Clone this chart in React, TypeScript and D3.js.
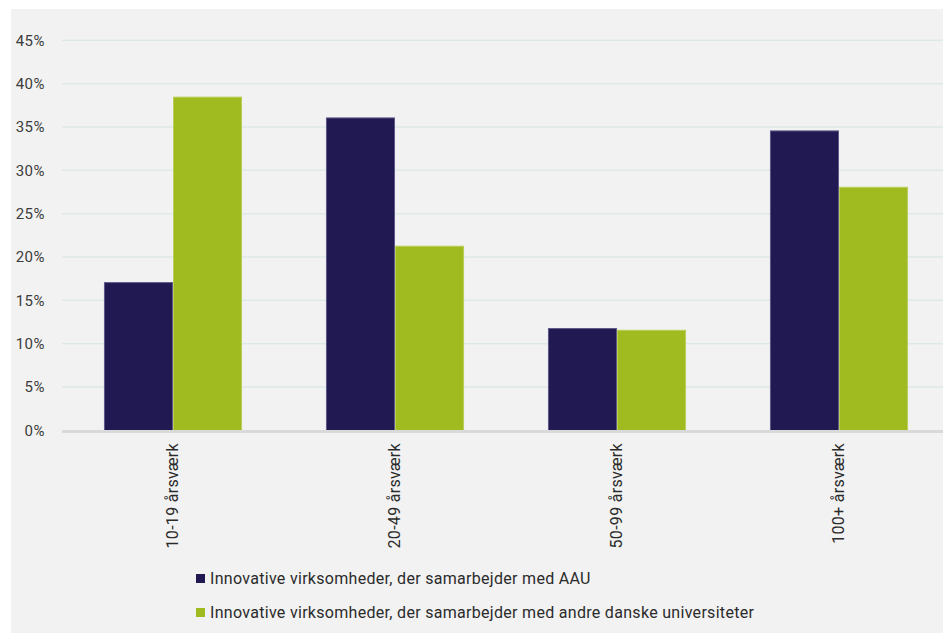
import React from "react";
import * as d3 from "d3";

const categories = ["10-19 årsværk", "20-49 årsværk", "50-99 årsværk", "100+ årsværk"];
const seriesNames = [
  "Innovative virksomheder, der samarbejder med AAU",
  "Innovative virksomheder, der samarbejder med andre danske universiteter",
];
const aauValues = [17.1, 36.1, 11.8, 34.6];
const otherValues = [38.5, 21.3, 11.6, 28.1];
const yTicks = [0, 5, 10, 15, 20, 25, 30, 35, 40, 45];
const colors = ["#211a52", "#9fbb1f"];
const strokeColors = ["#5d5888", "#b9cf5a"];

const W = 943;
const H = 634;
const FONT = "Roboto, 'DejaVu Sans', sans-serif";

export default function App() {
  const y = d3.scaleLinear().domain([0, 45]).range([430.3, 40.3]);
  const x = d3
    .scaleBand<string>()
    .domain(categories)
    .range([62, 950])
    .paddingInner(0.378)
    .paddingOuter(0.189);
  const x1 = d3.scaleBand<number>().domain([0, 1]).range([0, x.bandwidth()]);
  const series = [aauValues, otherValues];

  return (
    <svg
      width={W}
      height={H}
      style={{ position: "absolute", left: 0, top: 0, display: "block" }}
      fontFamily={FONT}
    >
      <rect x={0} y={0} width={W} height={H} fill="#ffffff" />
      <rect x={11} y={9} width={W - 11} height={624} fill="#f2f2f2" />
      {yTicks.map((t) => (
        <g key={t}>
          {t > 0 && (
            <line x1={62} x2={W} y1={y(t)} y2={y(t)} stroke="#dce9e6" strokeWidth={1.5} />
          )}
          <text
            x={45}
            y={y(t)}
            dy="0.36em"
            textAnchor="end"
            fontSize={15}
            letterSpacing={0.5}
            fill="#3c3c3c"
          >
            {t}%
          </text>
        </g>
      ))}
      {categories.map((c, i) => (
        <g key={c} transform={`translate(${x(c)},0)`}>
          {series.map((vals, s) => (
            <rect
              key={s}
              x={x1(s)! + 0.5}
              y={y(vals[i]) + 0.5}
              width={x1.bandwidth() - 1}
              height={y(0) - y(vals[i])}
              fill={colors[s]}
              stroke={strokeColors[s]}
              strokeWidth={1}
            />
          ))}
        </g>
      ))}
      <line x1={62} x2={W} y1={431.5} y2={431.5} stroke="#d9d9d9" strokeWidth={3} />
      {categories.map((c) => (
        <text
          key={c}
          transform={`translate(${x(c)! + x.bandwidth() / 2 + 5},443) rotate(-90)`}
          textAnchor="end"
          fontSize={16}
          letterSpacing={0.3}
          fill="#2b2b2b"
        >
          {c}
        </text>
      ))}
      {seriesNames.map((n, s) => (
        <g key={n} transform={`translate(196,${574 + s * 34})`}>
          <rect x={0} y={0} width={9} height={9} fill={colors[s]} />
          <text x={14} y={9.5} fontSize={16} letterSpacing={0.3} fill="#2b2b2b">
            {n}
          </text>
        </g>
      ))}
    </svg>
  );
}
